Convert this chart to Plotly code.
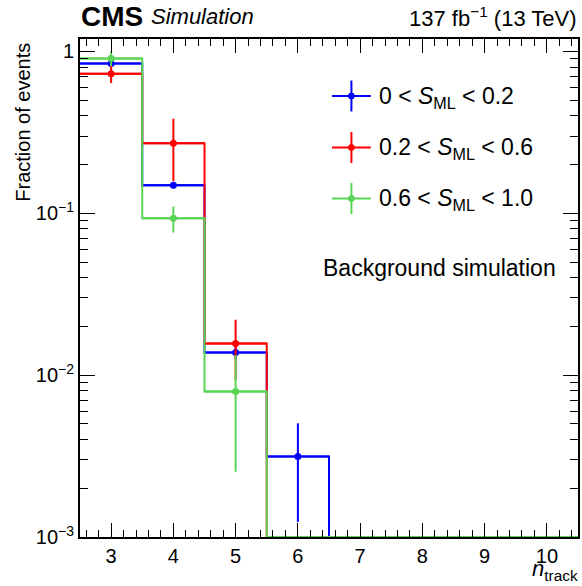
import plotly.graph_objects as go

# ---------------- data ----------------
bin_edges = [2.5, 3.5, 4.5, 5.5, 6.5, 7.5, 8.5, 9.5, 10.5]
n_track = [3, 4, 5, 6, 7, 8, 9, 10]

frac_low = [0.843, 0.149, 0.0138, 0.00314, 0, 0, 0, 0]
err_low = [0.03, 0.006, 0.0012, 0.0019, 0, 0, 0, 0]

frac_mid = [0.728, 0.271, 0.0157, 0, 0, 0, 0, 0]
err_mid = [0.09, 0.113, 0.0063, 0, 0, 0, 0, 0]

frac_high = [0.905, 0.0931, 0.00793, 0, 0, 0, 0, 0]
err_high = [0.095, 0.017, 0.0054, 0, 0, 0, 0, 0]

series_labels = ["0 < <i>S</i><sub>ML</sub> < 0.2",
                 "0.2 < <i>S</i><sub>ML</sub> < 0.6",
                 "0.6 < <i>S</i><sub>ML</sub> < 1.0"]
series_colors = ["#0000ff", "#ff0000", "#59d454"]

y_tickvals = [1e-3, 1e-2, 1e-1, 1]
y_ticktext = ["10<sup>−3</sup>", "10<sup>−2</sup>", "10<sup>−1</sup>", "1"]
x_tickvals = [3, 4, 5, 6, 7, 8, 9, 10]

YMIN = 1e-3
YMAX_LOG = 0.077

# ---------------- figure ----------------
W, H = 582, 586
PLOT_L, PLOT_R, PLOT_T, PLOT_B = 80, 580, 39, 537
L, T = PLOT_L, PLOT_T
R, B = W - PLOT_R, H - PLOT_B
PW, PH = PLOT_R - PLOT_L, PLOT_B - PLOT_T


def px_x(x):
    return (x - PLOT_L) / PW


def px_y(y):
    return (PLOT_B - y) / PH


FONT = "Liberation Sans, Arial, Helvetica, sans-serif"

fig = go.Figure()

series = [(frac_low, err_low), (frac_mid, err_mid), (frac_high, err_high)]
for (vals, errs), col, lab in zip(series, series_colors, series_labels):
    # step histogram outline (zero bins drawn at the axis minimum, like ROOT)
    ys = [max(v, YMIN) for v in vals]
    fig.add_trace(go.Scatter(
        x=bin_edges, y=ys + [ys[-1]], mode="lines", line_shape="hv",
        line=dict(color=col, width=2), showlegend=False, hoverinfo="skip"))
    # points with error bars
    xs = [c for c, v in zip(n_track, vals) if v > 0]
    yv = [v for v in vals if v > 0]
    ye = [e for e, v in zip(errs, vals) if v > 0]
    fig.add_trace(go.Scatter(
        x=xs, y=yv, mode="markers",
        marker=dict(color=col, size=7, symbol="circle"),
        error_y=dict(type="data", array=ye, color=col, thickness=2, width=0),
        error_x=dict(type="data", array=[0.5] * len(xs), color=col, thickness=2, width=0),
        showlegend=False, name=lab))

shapes = []
annotations = []

# manual legend
leg_y = [96, 147.5, 198.5]
for yy, col, lab in zip(leg_y, series_colors, series_labels):
    shapes.append(dict(type="line", xref="paper", yref="paper",
                       x0=px_x(333), x1=px_x(372), y0=px_y(yy), y1=px_y(yy),
                       line=dict(color=col, width=2)))
    shapes.append(dict(type="line", xref="paper", yref="paper",
                       x0=px_x(352.5), x1=px_x(352.5), y0=px_y(yy - 15.5), y1=px_y(yy + 15.5),
                       line=dict(color=col, width=2)))
    shapes.append(dict(type="circle", xref="paper", yref="paper",
                       x0=px_x(349.5), x1=px_x(355.5), y0=px_y(yy - 3), y1=px_y(yy + 3),
                       fillcolor=col, line=dict(color=col, width=1)))
    annotations.append(dict(text=lab, xref="paper", yref="paper",
                            x=px_x(378), y=px_y(yy + 1), xanchor="left", yanchor="middle",
                            showarrow=False, font=dict(size=23, color="black", family=FONT)))

annotations += [
    dict(text="Background simulation", xref="paper", yref="paper",
         x=px_x(560), y=px_y(268), xanchor="right", yanchor="middle",
         showarrow=False, font=dict(size=23, color="black", family=FONT)),
    dict(text="<b>CMS</b>", xref="paper", yref="paper",
         x=px_x(79), y=px_y(16), xanchor="left", yanchor="middle",
         showarrow=False, font=dict(size=28, color="black", family=FONT)),
    dict(text="<i>Simulation</i>", xref="paper", yref="paper",
         x=px_x(149), y=px_y(17), xanchor="left", yanchor="middle",
         showarrow=False, font=dict(size=22, color="black", family=FONT)),
    dict(text="137 fb<sup>−1</sup> (13 TeV)", xref="paper", yref="paper",
         x=px_x(581), y=px_y(17), xanchor="right", yanchor="middle",
         showarrow=False, font=dict(size=22, color="black", family=FONT)),
    dict(text="Fraction of events", xref="paper", yref="paper",
         x=px_x(22), y=px_y(41), xanchor="center", yanchor="top", textangle=-90,
         showarrow=False, font=dict(size=20, color="black", family=FONT)),
    dict(text="<i>n</i><sub>track</sub>", xref="paper", yref="paper",
         x=px_x(582), y=px_y(586), xanchor="right", yanchor="bottom",
         showarrow=False, font=dict(size=22, color="black", family=FONT)),
]

fig.update_layout(
    width=W, height=H,
    margin=dict(l=L, r=R, t=T, b=B, pad=0),
    paper_bgcolor="white", plot_bgcolor="white",
    font=dict(family=FONT, size=20, color="black"),
    showlegend=False,
    shapes=shapes, annotations=annotations,
)

fig.update_xaxes(
    range=[2.5, 10.5], tickmode="array", tickvals=x_tickvals,
    ticks="inside", ticklen=14, tickwidth=1, tickcolor="black",
    showline=True, linecolor="black", linewidth=2, mirror="allticks",
    showgrid=False, zeroline=False, tickfont=dict(size=20),
    minor=dict(ticks="inside", dtick=0.2, tick0=2.6, ticklen=7, tickwidth=1,
               tickcolor="black", showgrid=False),
)

y_minor = [k * 10 ** d for d in (-3, -2, -1) for k in range(2, 10)]
fig.update_yaxes(
    type="log", range=[-3, YMAX_LOG], tickmode="array",
    tickvals=y_tickvals, ticktext=y_ticktext,
    ticks="inside", ticklen=15, tickwidth=1, tickcolor="black",
    showline=True, linecolor="black", linewidth=2, mirror="allticks",
    showgrid=False, zeroline=False, tickfont=dict(size=20),
    minor=dict(ticks="inside", tickmode="array", tickvals=y_minor, ticklen=8,
               tickwidth=1, tickcolor="black", showgrid=False),
)

# remove the default 8px page margin so the figure sits at the window origin
fig.write_html("out.html",
               config={"displayModeBar": False},
               post_script="document.body.style.margin='0';"
                           "document.documentElement.style.overflow='hidden';")
